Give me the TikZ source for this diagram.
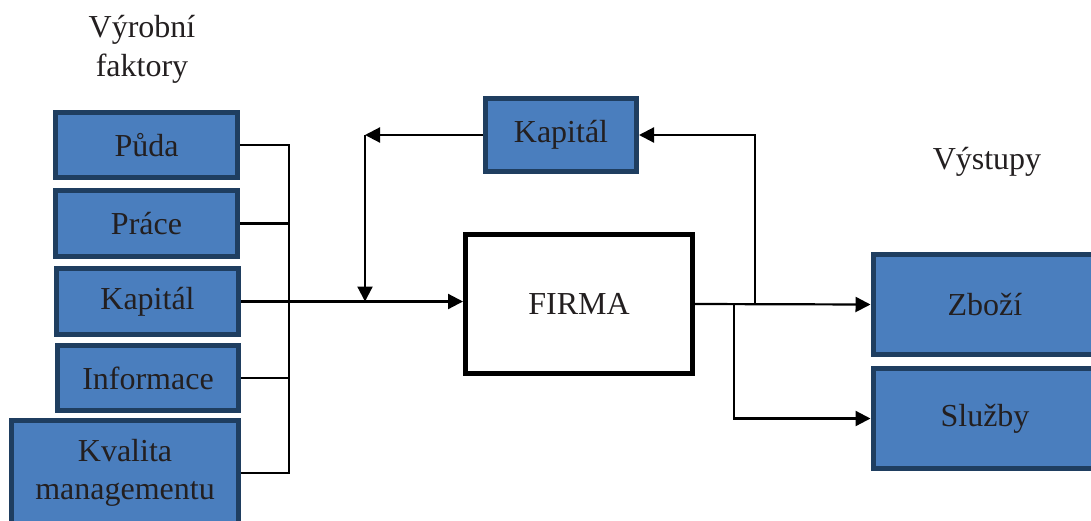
\documentclass[tikz,border=0pt]{standalone}
\usepackage{fontspec}
\setmainfont{Liberation Serif}
\usetikzlibrary{arrows.meta}
\definecolor{boxfill}{HTML}{4A7EBE}
\definecolor{boxedge}{HTML}{1F3E60}
\definecolor{txt}{HTML}{231F20}
\begin{document}
\begin{tikzpicture}[x=1pt,y=-1pt,
  bluebox/.style={draw=boxedge,fill=boxfill,line width=5pt,inner sep=0pt,text=txt,align=center,font=\fontsize{32}{38}\selectfont},
  firmabox/.style={draw=black,fill=white,line width=5pt,inner sep=0pt,text=txt,font=\fontsize{32}{38}\selectfont},
  conn/.style={line width=2.2pt,black},
  arr/.style={conn,-{Triangle[length=15pt,width=15pt]}},
  lbl/.style={text=txt,align=center,font=\fontsize{32}{39}\selectfont}]
\useasboundingbox (0,0) rectangle (1091,520);
\node[lbl] (vf) at (142,49) {Výrobní\\faktory};
\node[lbl] (vy) at (987,162) {Výstupy};
\node[bluebox,minimum width=182pt,minimum height=65pt] (puda) at (146.5,145) {Půda};
\node[bluebox,minimum width=182pt,minimum height=66pt] (prace) at (146.5,223.5) {Práce};
\node[bluebox,minimum width=182pt,minimum height=66pt] (kap) at (147.5,301.5) {Kapitál};
\node[bluebox,minimum width=181pt,minimum height=65pt] (info) at (148,378) {Informace};
\node[bluebox,minimum width=227pt,minimum height=105pt] (kval) at (125,473) {Kvalita\\managementu};
\node[bluebox,minimum width=151pt,minimum height=73pt] (kaptop) at (561,135) {Kapitál};
\node[firmabox,minimum width=227pt,minimum height=139pt] (firma) at (579,304) {FIRMA};
\node[bluebox,minimum width=224pt,minimum height=100pt] (zbozi) at (985,304.5) {Zboží};
\node[bluebox,minimum width=224pt,minimum height=100pt] (sluzby) at (985,418.5) {Služby};
\coordinate (b) at (289,0);
\coordinate (j) at (365,0);
\coordinate (r1) at (755,0);
\coordinate (r2) at (734,0);
\draw[conn] (puda.east) -| (b |- kval.east) -- (kval.east);
\draw[conn] (prace.east) -- (prace.east -| b);
\draw[conn] (info.east) -- (info.east -| b);
\draw[arr] (kap.east) -- (kap.east -| firma.west);
\draw[arr] (kaptop.west) -- (kaptop.west -| j);
\draw[arr] (kaptop.west -| j) -- (j |- kap.east);
\draw[arr] (firma.east) -- (zbozi.west);
\draw[arr] (firma.east -| r1) |- (kaptop.east);
\draw[arr] (firma.east -| r2) |- (sluzby.west);
\end{tikzpicture}
\end{document}
